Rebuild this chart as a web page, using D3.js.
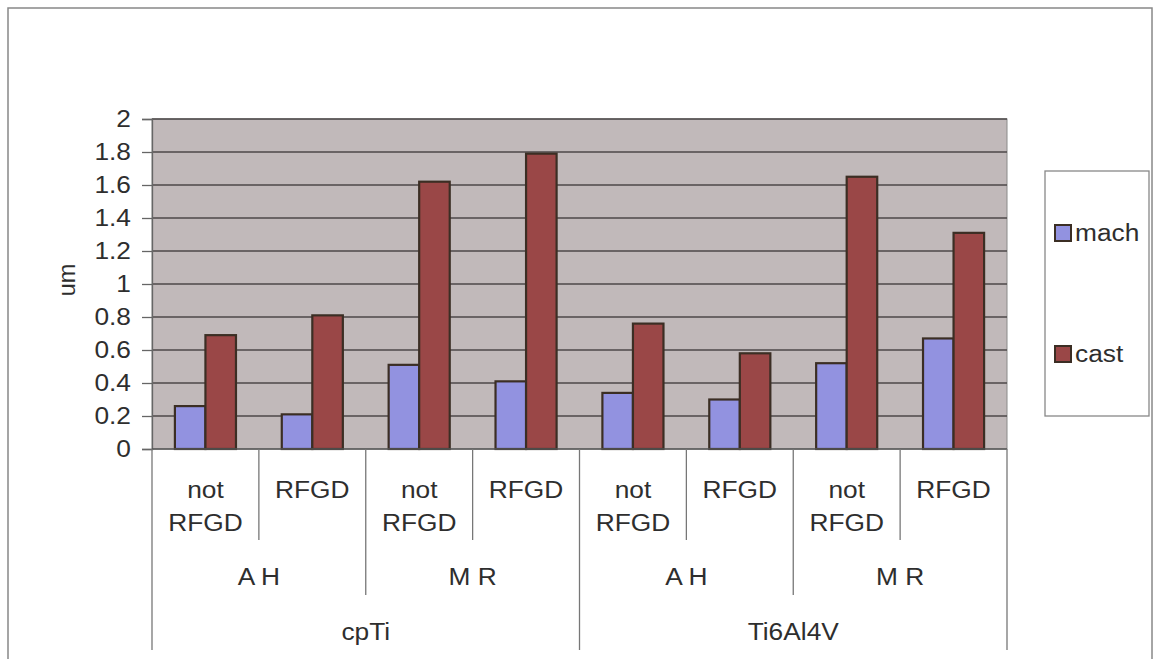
<!DOCTYPE html>
<html>
<head>
<meta charset="utf-8">
<script src="https://cdn.jsdelivr.net/npm/d3@7"></script>
<style>
  body { margin: 0; background: #fff; }
  text { font-family: "Liberation Sans", Arial, sans-serif; fill: #2e2e2e; }
</style>
</head>
<body>
<div id="chart"></div>
<script>
// data
var materials = ["cpTi", "Ti6Al4V"];
var methods = ["A H", "M R"];
var treatments = ["not RFGD", "RFGD"];
var seriesNames = ["mach", "cast"];
var machValues = [0.26, 0.21, 0.51, 0.41, 0.34, 0.30, 0.52, 0.67];
var castValues = [0.69, 0.81, 1.62, 1.79, 0.76, 0.58, 1.65, 1.31];
var yTicks = [0, 0.2, 0.4, 0.6, 0.8, 1, 1.2, 1.4, 1.6, 1.8, 2];
var yTitle = "um";

var colors = { mach: "#9292e0", cast: "#9a4747" };

var width = 1155, height = 659;
var plot = { left: 152, right: 1007, top: 119, bottom: 449 };
var fontSize = 23.5;
var stretch = 1.12;

// build the category list
var cats = [];
materials.forEach(function (m, mi) {
  methods.forEach(function (p, pi) {
    treatments.forEach(function (t, ti) {
      cats.push({ id: mi + "-" + pi + "-" + ti, material: m, method: p, treatment: t });
    });
  });
});
cats.forEach(function (c, i) {
  c.mach = machValues[i];
  c.cast = castValues[i];
});

var svg = d3.select("#chart").append("svg")
  .attr("width", width)
  .attr("height", height);

// outer chart frame
svg.append("rect")
  .attr("x", 8).attr("y", 8)
  .attr("width", 1144).attr("height", 680)
  .attr("fill", "none").attr("stroke", "#888").attr("stroke-width", 1.5);

var x = d3.scaleBand()
  .domain(cats.map(function (c) { return c.id; }))
  .range([plot.left, plot.right]);

var xSub = d3.scaleBand()
  .domain(seriesNames)
  .range([0, x.bandwidth()])
  .paddingInner(0)
  .paddingOuter(0.75);

var y = d3.scaleLinear()
  .domain([0, 2])
  .range([plot.bottom, plot.top]);

function label(g, px, py, str, anchor) {
  return g.append("g")
    .attr("transform", "translate(" + px + "," + py + ") scale(" + stretch + ",1)")
    .append("text")
    .attr("text-anchor", anchor || "middle")
    .attr("dominant-baseline", "central")
    .style("font-size", fontSize + "px")
    .text(str);
}

// plot area background
svg.append("rect")
  .attr("x", plot.left).attr("y", plot.top)
  .attr("width", plot.right - plot.left).attr("height", plot.bottom - plot.top)
  .attr("fill", "#c1b9ba")
  .attr("stroke", "#8a8a8a").attr("stroke-width", 1);

// gridlines
svg.append("g")
  .selectAll("line")
  .data(yTicks.filter(function (d) { return d > 0; }))
  .enter().append("line")
  .attr("x1", plot.left).attr("x2", plot.right)
  .attr("y1", function (d) { return y(d); })
  .attr("y2", function (d) { return y(d); })
  .attr("stroke", "#4d4848").attr("stroke-width", 1.3);

// y axis
var yAxis = svg.append("g")
  .attr("transform", "translate(" + plot.left + ",0)")
  .call(d3.axisLeft(y).tickValues(yTicks).tickSize(10).tickFormat(function () { return ""; }));
yAxis.select(".domain").attr("stroke", "#666").attr("stroke-width", 1.3);
yAxis.selectAll(".tick line").attr("stroke", "#666").attr("stroke-width", 1.3);

var yLab = svg.append("g");
yTicks.forEach(function (d) {
  label(yLab, 131, y(d), d3.format("")(d), "end");
});

svg.append("g")
  .attr("transform", "translate(67," + ((plot.top + plot.bottom) / 2 - 4) + ") rotate(-90)")
  .append("text")
  .attr("text-anchor", "middle")
  .attr("dominant-baseline", "central")
  .style("font-size", fontSize + "px")
  .text(yTitle);

// bars
var groups = svg.append("g")
  .selectAll("g")
  .data(cats)
  .enter().append("g")
  .attr("transform", function (c) { return "translate(" + x(c.id) + ",0)"; });

groups.selectAll("rect")
  .data(function (c) { return seriesNames.map(function (s) { return { key: s, value: c[s] }; }); })
  .enter().append("rect")
  .attr("x", function (d) { return xSub(d.key); })
  .attr("width", xSub.bandwidth())
  .attr("y", function (d) { return y(d.value); })
  .attr("height", function (d) { return y(0) - y(d.value); })
  .attr("fill", function (d) { return colors[d.key]; })
  .attr("stroke", "#3b2e24").attr("stroke-width", 2.2);

// category axis baseline
svg.append("line")
  .attr("x1", plot.left).attr("x2", plot.right)
  .attr("y1", plot.bottom).attr("y2", plot.bottom)
  .attr("stroke", "#555").attr("stroke-width", 1.5);

// multi level category separators
var sep = svg.append("g").attr("stroke", "#777").attr("stroke-width", 1.3);
var lvl1Bottom = 540, lvl2Bottom = 595, lvl3Bottom = 650;
cats.forEach(function (c, i) {
  var x0 = x(c.id);
  var bottom = lvl1Bottom;
  if (i % 2 === 0) bottom = lvl2Bottom;
  if (i % 4 === 0) bottom = lvl3Bottom;
  sep.append("line").attr("x1", x0).attr("x2", x0).attr("y1", plot.bottom).attr("y2", bottom);
});
sep.append("line").attr("x1", plot.right).attr("x2", plot.right).attr("y1", plot.bottom).attr("y2", lvl3Bottom);

// level 1 labels
var catLab = svg.append("g");
cats.forEach(function (c) {
  var cx = x(c.id) + x.bandwidth() / 2;
  var words = c.treatment.split(" ");
  if (words.length > 1) {
    label(catLab, cx, 490, words[0]);
    label(catLab, cx, 523, words[1]);
  } else {
    label(catLab, cx, 490, words[0]);
  }
});

// level 2 and 3 labels
materials.forEach(function (m, mi) {
  methods.forEach(function (p, pi) {
    var first = x(mi + "-" + pi + "-0");
    var last = x(mi + "-" + pi + "-" + (treatments.length - 1)) + x.bandwidth();
    label(catLab, (first + last) / 2, 577, p);
  });
  var first = x(mi + "-0-0");
  var last = x(mi + "-" + (methods.length - 1) + "-" + (treatments.length - 1)) + x.bandwidth();
  label(catLab, (first + last) / 2, 632, m);
});

// legend
var legend = svg.append("g");
legend.append("rect")
  .attr("x", 1045).attr("y", 171)
  .attr("width", 104).attr("height", 245)
  .attr("fill", "#fff").attr("stroke", "#888").attr("stroke-width", 1.3);

var legendY = d3.scalePoint().domain(seriesNames).range([233, 354]);
seriesNames.forEach(function (s) {
  legend.append("rect")
    .attr("x", 1055).attr("y", legendY(s) - 8)
    .attr("width", 16).attr("height", 16)
    .attr("fill", colors[s]).attr("stroke", "#3b2e24").attr("stroke-width", 2);
  label(legend, 1075, legendY(s), s, "start");
});
</script>
</body>
</html>
